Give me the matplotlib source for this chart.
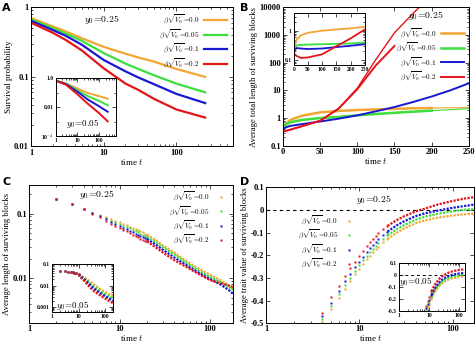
import numpy as np
import matplotlib
matplotlib.use('Agg')
import matplotlib.pyplot as plt
from matplotlib.ticker import NullFormatter, LogLocator, MultipleLocator

plt.rcParams['font.family'] = 'serif'
plt.rcParams['font.serif'] = ['Liberation Serif', 'DejaVu Serif']
plt.rcParams['font.weight'] = 'bold'
plt.rcParams['mathtext.fontset'] = 'cm'

COLORS = ['#f2a633', '#3ddf3d', '#1818d4', '#e4141b']
LABELS = [r'$\beta\sqrt{V_0}\!=\!0.0$', r'$\beta\sqrt{V_0}\!=\!0.05$',
          r'$\beta\sqrt{V_0}\!=\!0.1$', r'$\beta\sqrt{V_0}\!=\!0.2$']

# ---- A: survival probability (y0=0.25) ----
a_t = [1, 2, 3, 5, 10, 20, 30, 50, 100, 250]
a_orange = [0.70, 0.53, 0.45, 0.36, 0.27, 0.215, 0.19, 0.165, 0.13, 0.10]
a_green = [0.67, 0.50, 0.42, 0.33, 0.22, 0.155, 0.13, 0.105, 0.08, 0.060]
a_blue = [0.64, 0.47, 0.39, 0.29, 0.175, 0.12, 0.098, 0.078, 0.057, 0.042]
a_red = [0.60, 0.43, 0.34, 0.24, 0.133, 0.08, 0.065, 0.048, 0.034, 0.026]
# inset (y0=0.05)
ai_t = [1, 3, 10, 30, 100, 250]
ai_orange = [0.7, 0.45, 0.2, 0.1, 0.06, 0.04]
ai_green = [0.7, 0.42, 0.15, 0.06, 0.028, 0.014]
ai_blue = [0.7, 0.40, 0.12, 0.035, 0.012, 0.005]
ai_red = [0.7, 0.36, 0.08, 0.018, 0.004, 0.0011]

# ---- B: average total length (y0=0.25) ----
b_t = [0, 5, 10, 25, 50, 75, 100, 125, 150, 175, 200, 225, 250]
b_orange = [0.40, 0.65, 0.85, 1.2, 1.6, 1.8, 1.95, 2.05, 2.15, 2.25, 2.3, 2.35, 2.4]
b_green = [0.40, 0.6, 0.7, 0.85, 1.0, 1.1, 1.25, 1.4, 1.55, 1.7, 1.85, 2.0, 2.2]
b_blue = [0.40, 0.47, 0.52, 0.6, 0.75, 0.95, 1.25, 1.75, 2.5, 3.8, 6, 10, 18]
b_red_t = [0, 5, 10, 25, 50, 75, 100, 125, 150, 175, 190]
b_red = [0.32, 0.35, 0.38, 0.5, 0.8, 2.2, 12, 130, 1200, 6000, 15000]
b_red_sim_t = [0, 5, 10, 25, 50, 75, 100, 125, 150]
b_red_sim = [0.32, 0.35, 0.38, 0.5, 0.8, 2.2, 11, 80, 400]
# inset
bi_t = [0, 10, 25, 50, 100, 150, 200, 250]
bi_orange = [0.25, 0.5, 0.7, 0.85, 1.0, 1.1, 1.2, 1.35]
bi_green = [0.25, 0.32, 0.33, 0.34, 0.35, 0.36, 0.37, 0.40]
bi_blue = [0.20, 0.26, 0.25, 0.24, 0.25, 0.28, 0.31, 0.35]
bi_red = [0.17, 0.14, 0.12, 0.125, 0.16, 0.30, 0.55, 1.1]

# ---- C: average length (y0=0.25) ----
c_t = [2, 3, 4, 5, 6, 7, 8, 9, 10, 11, 12, 13, 14, 15, 16, 17, 18, 19, 20,
       25, 30, 40, 50, 70, 100, 130, 160, 180]
c_orange = [0.167, 0.14, 0.118, 0.103, 0.094, 0.088, 0.082, 0.078, 0.074, 0.070,
            0.066, 0.063, 0.060, 0.057, 0.055, 0.053, 0.051, 0.049, 0.047,
            0.039, 0.032, 0.025, 0.020, 0.0148, 0.0113, 0.0093, 0.0078, 0.0068]
c_green = [0.167, 0.14, 0.118, 0.102, 0.092, 0.084, 0.078, 0.073, 0.069, 0.065,
           0.062, 0.059, 0.056, 0.053, 0.051, 0.049, 0.047, 0.045, 0.043,
           0.036, 0.030, 0.0235, 0.0188, 0.0138, 0.0105, 0.0087, 0.0074, 0.0066]
c_blue = [0.167, 0.14, 0.117, 0.101, 0.090, 0.081, 0.074, 0.068, 0.064, 0.060,
          0.057, 0.054, 0.052, 0.049, 0.047, 0.045, 0.043, 0.042, 0.040,
          0.033, 0.0275, 0.021, 0.0172, 0.0128, 0.0097, 0.0080, 0.0066, 0.0057]
c_red = [0.167, 0.14, 0.117, 0.100, 0.087, 0.077, 0.070, 0.064, 0.059, 0.056,
         0.053, 0.050, 0.047, 0.045, 0.043, 0.041, 0.039, 0.038, 0.037,
         0.030, 0.025, 0.019, 0.016, 0.0122, 0.0093, 0.0084, 0.0077, 0.0073]
# inset
ci_t = [2, 3, 4, 5, 6, 7, 8, 10, 13, 17, 22, 30, 40, 55, 75, 100, 140, 200]
ci_orange = [0.05, 0.048, 0.046, 0.044, 0.042, 0.040, 0.038, 0.034, 0.029, 0.024,
             0.019, 0.014, 0.011, 0.0082, 0.0063, 0.0050, 0.0041, 0.0034]
ci_green = [0.05, 0.048, 0.046, 0.044, 0.042, 0.040, 0.038, 0.034, 0.027, 0.021,
            0.016, 0.0115, 0.0087, 0.0065, 0.0050, 0.0040, 0.0032, 0.0026]
ci_blue = [0.05, 0.048, 0.046, 0.044, 0.042, 0.040, 0.038, 0.034, 0.025, 0.019,
           0.014, 0.0095, 0.0070, 0.0052, 0.0040, 0.0032, 0.0025, 0.0020]
ci_red = [0.05, 0.048, 0.046, 0.044, 0.042, 0.040, 0.038, 0.033, 0.022, 0.016,
          0.011, 0.0072, 0.0052, 0.0040, 0.0031, 0.0025, 0.0019, 0.0015]

# ---- D: average trait value (y0=0.25) ----
d_t = [4, 5, 6, 7, 8, 9, 10, 11, 12, 13, 14, 15, 16, 18, 20,
       25, 30, 40, 50, 70, 100, 130, 170]
d_orange = [-0.492, -0.436, -0.386, -0.347, -0.313, -0.284, -0.259, -0.237, -0.218,
            -0.201, -0.186, -0.173, -0.161, -0.142, -0.128,
            -0.100, -0.082, -0.058, -0.046, -0.033, -0.024, -0.019, -0.016]
d_green = [-0.480, -0.423, -0.372, -0.332, -0.298, -0.269, -0.244, -0.222, -0.203,
           -0.186, -0.171, -0.158, -0.146, -0.127, -0.112,
           -0.085, -0.067, -0.043, -0.030, -0.016, -0.005, 0.001, 0.005]
d_blue = [-0.468, -0.408, -0.356, -0.315, -0.281, -0.252, -0.227, -0.205, -0.186,
          -0.169, -0.154, -0.141, -0.129, -0.110, -0.095,
          -0.068, -0.050, -0.027, -0.015, -0.002, 0.010, 0.017, 0.024]
d_red = [-0.452, -0.384, -0.334, -0.292, -0.257, -0.227, -0.201, -0.179, -0.160,
         -0.143, -0.128, -0.115, -0.103, -0.085, -0.070,
         -0.045, -0.028, -0.006, 0.006, 0.025, 0.040, 0.050, 0.057]
# inset
di_t = [8, 9, 10, 12, 15, 20, 25, 30, 40, 50, 70, 100, 150]
di_orange = [-0.30, -0.27, -0.245, -0.20, -0.15, -0.105, -0.08, -0.063, -0.045, -0.035, -0.025, -0.018, -0.015]
di_green = [-0.29, -0.255, -0.23, -0.185, -0.135, -0.09, -0.065, -0.048, -0.030, -0.020, -0.010, -0.003, 0.000]
di_blue = [-0.28, -0.245, -0.215, -0.17, -0.12, -0.075, -0.05, -0.033, -0.015, -0.006, 0.003, 0.010, 0.014]
di_red = [-0.26, -0.22, -0.19, -0.14, -0.09, -0.045, -0.02, -0.005, 0.012, 0.022, 0.032, 0.040, 0.045]


def style(ax, fs):
    ax.tick_params(direction='in', which='both', top=True, right=True,
                   labelsize=fs, width=0.5, pad=1.5)
    ax.tick_params(which='major', length=3)
    ax.tick_params(which='minor', length=1.5)
    for s in ax.spines.values():
        s.set_linewidth(0.7)


def logticks(ax, axis, ticks, labels):
    if axis == 'x':
        ax.set_xticks(ticks, labels)
        ax.xaxis.set_minor_locator(LogLocator(subs=np.arange(2, 10)))
        ax.xaxis.set_minor_formatter(NullFormatter())
    else:
        ax.set_yticks(ticks, labels)
        ax.yaxis.set_minor_locator(LogLocator(subs=np.arange(2, 10)))
        ax.yaxis.set_minor_formatter(NullFormatter())


def dots(ax, t, y, col, cut, lab=None):
    # separate points at early times, dense points merge into a dotted band
    t = np.array(t); y = np.array(y)
    m = t <= cut
    ax.plot(t[m], y[m], 's', ms=1.5, color=col, mec='none', label=lab)
    ax.plot(t[t >= cut], y[t >= cut], ls=(0, (1, 0.6)), lw=1.6, color=col)


LEG = dict(fontsize=5.2, frameon=False, markerfirst=False, labelspacing=0.15, handletextpad=0.6)

fig = plt.figure(figsize=(4.77, 3.47), dpi=100)

# ===== A =====
ax = fig.add_axes([0.065, 0.578, 0.423, 0.401])
for y, c, l in zip([a_orange, a_green, a_blue, a_red], COLORS, LABELS):
    ax.plot(a_t, y, color=c, lw=1.6, label=l)
ax.set_xscale('log'); ax.set_yscale('log')
ax.set_xlim(1, 600); ax.set_ylim(0.01, 1)
logticks(ax, 'x', [1, 10, 100], ['1', '10', '100'])
logticks(ax, 'y', [0.01, 0.1, 1], ['0.01', '0.1', '1'])
style(ax, 6)
ax.set_ylabel('Survival probability', fontsize=6.5, labelpad=1)
ax.set_xlabel(r'time $t$', fontsize=6.5, labelpad=0)
ax.text(0.35, 0.91, r'$y_0\!=\!0.25$', transform=ax.transAxes, fontsize=7, ha='center', va='center')
ax.legend(loc='upper right', handlelength=3.2, borderaxespad=0.4, **LEG)

ins = fig.add_axes([0.117, 0.607, 0.126, 0.167])
for y, c in zip([ai_orange, ai_green, ai_blue, ai_red], COLORS):
    ins.plot(ai_t, y, color=c, lw=1.4)
ins.set_xscale('log'); ins.set_yscale('log')
ins.set_xlim(1, 600); ins.set_ylim(1e-4, 1)
logticks(ins, 'x', [1, 10, 100], ['1', '10', '100'])
logticks(ins, 'y', [1e-4, 0.01, 1], [r'10$^{-4}$', '0.01', '1.0'])
ins.yaxis.set_minor_locator(LogLocator(subs=[]))
style(ins, 4)
ins.text(0.45, 0.22, r'$y_0\!=\!0.05$', transform=ins.transAxes, fontsize=6.5, ha='center', va='center')

# ===== B =====
ax = fig.add_axes([0.593, 0.580, 0.390, 0.399])
ax.plot(b_t[:11], b_orange[:11], color=COLORS[0], lw=1.8, label=LABELS[0])
ax.plot(b_t, b_orange, color=COLORS[0], lw=0.8)
ax.plot(b_t[:11], b_green[:11], color=COLORS[1], lw=1.8, label=LABELS[1])
ax.plot(b_t, b_green, color=COLORS[1], lw=0.8)
ax.plot(b_t, b_blue, color=COLORS[2], lw=1.4, label=LABELS[2])
ax.plot(b_red_sim_t, b_red_sim, color=COLORS[3], lw=1.4, label=LABELS[3])
ax.plot(b_red_t, b_red, color=COLORS[3], lw=1.0)
ax.set_yscale('log')
ax.set_xlim(0, 250); ax.set_ylim(0.1, 10000)
ax.xaxis.set_major_locator(MultipleLocator(50))
logticks(ax, 'y', [0.1, 1, 10, 100, 1000, 10000], ['0.1', '1', '10', '100', '1000', '10000'])
style(ax, 6)
ax.set_ylabel('Average total length of surviving blocks', fontsize=6.2, labelpad=1)
ax.set_xlabel(r'time $t$', fontsize=6.5, labelpad=0)
ax.text(0.77, 0.94, r'$y_0\!=\!0.25$', transform=ax.transAxes, fontsize=7, ha='center', va='center')
ax.legend(loc='upper right', bbox_to_anchor=(1.0, 0.9), handlelength=3.2, borderaxespad=0.3, **LEG)

ins = fig.add_axes([0.616, 0.813, 0.149, 0.150])
for y, c in zip([bi_orange, bi_green, bi_blue, bi_red], COLORS):
    ins.plot(bi_t, y, color=c, lw=1.3)
ins.set_yscale('log')
ins.set_xlim(0, 250); ins.set_ylim(0.07, 4)
ins.xaxis.set_major_locator(MultipleLocator(50))
logticks(ins, 'y', [0.1, 1], ['0.1', '1'])
style(ins, 4)

# ===== C =====
ax = fig.add_axes([0.061, 0.068, 0.428, 0.400])
for y, c, l in zip([c_orange, c_green, c_blue, c_red], COLORS, LABELS):
    dots(ax, c_t, y, c, 20, l)
ax.set_xscale('log'); ax.set_yscale('log')
ax.set_xlim(1, 180); ax.set_ylim(0.002, 0.28)
logticks(ax, 'x', [1, 10, 100], ['1', '10', '100'])
logticks(ax, 'y', [0.01, 0.1], ['0.01', '0.1'])
style(ax, 6)
ax.set_ylabel('Average length of surviving blocks', fontsize=6.2, labelpad=1)
ax.set_xlabel(r'time $t$', fontsize=6.5, labelpad=0)
ax.text(0.33, 0.93, r'$y_0\!=\!0.25$', transform=ax.transAxes, fontsize=7, ha='center', va='center')
ax.legend(loc='upper right', handlelength=2, borderaxespad=0.3, markerscale=1.2, **LEG)

ins = fig.add_axes([0.109, 0.102, 0.128, 0.136])
for y, c in zip([ci_orange, ci_green, ci_blue, ci_red], COLORS):
    dots(ins, ci_t, y, c, 10)
ins.set_xscale('log'); ins.set_yscale('log')
ins.set_xlim(1, 200); ins.set_ylim(0.0006, 0.1)
logticks(ins, 'x', [1, 10, 100], ['1', '10', '100'])
logticks(ins, 'y', [0.001, 0.01, 0.1], ['0.001', '0.01', '0.1'])
style(ins, 4)
ins.text(0.33, 0.12, r'$y_0\!=\!0.05$', transform=ins.transAxes, fontsize=6.5, ha='center', va='center')

# ===== D =====
ax = fig.add_axes([0.558, 0.068, 0.436, 0.392])
ax.axhline(0, color='black', ls=(0, (3, 3)), lw=0.8)
for y, c, l in zip([d_orange, d_green, d_blue, d_red], COLORS, LABELS):
    dots(ax, d_t, y, c, 20, l)
ax.set_xscale('log')
ax.set_xlim(1, 170); ax.set_ylim(-0.5, 0.1)
logticks(ax, 'x', [1, 10, 100], ['1', '10', '100'])
ax.set_yticks([-0.5, -0.4, -0.3, -0.2, -0.1, 0, 0.1], ['-0.5', '-0.4', '-0.3', '-0.2', '-0.1', '0', '0.1'])
style(ax, 6)
ax.set_ylabel('Average trait value of surviving blocks', fontsize=6.2, labelpad=1)
ax.set_xlabel(r'time $t$', fontsize=6.5, labelpad=0)
ax.text(0.52, 0.91, r'$y_0\!=\!0.25$', transform=ax.transAxes, fontsize=7, ha='center', va='center')
ax.legend(loc='center left', bbox_to_anchor=(0.12, 0.6), handlelength=2, markerscale=1.2, **LEG)

ins = fig.add_axes([0.836, 0.105, 0.138, 0.138])
ins.axhline(0, color='black', ls=(0, (3, 3)), lw=0.7)
for y, c in zip([di_orange, di_green, di_blue, di_red], COLORS):
    dots(ins, di_t, y, c, 12)
ins.set_xscale('log')
ins.set_xlim(1, 150); ins.set_ylim(-0.3, 0.1)
logticks(ins, 'x', [1, 10, 100], ['1', '10', '100'])
ins.set_yticks([-0.3, -0.2, -0.1, 0, 0.1], ['-0.3', '-0.2', '-0.1', '0', '0.1'])
style(ins, 4)
ins.text(0.25, 0.6, r'$y_0\!=\!0.05$', transform=ins.transAxes, fontsize=6.5, ha='center', va='center')

# panel letters
for x, y, s in [(0.005, 0.978, 'A'), (0.503, 0.978, 'B'), (0.005, 0.475, 'C'), (0.503, 0.475, 'D')]:
    fig.text(x, y, s, fontsize=8, fontweight='bold', family='DejaVu Sans', va='center')

fig.savefig('out.png', dpi=100)
